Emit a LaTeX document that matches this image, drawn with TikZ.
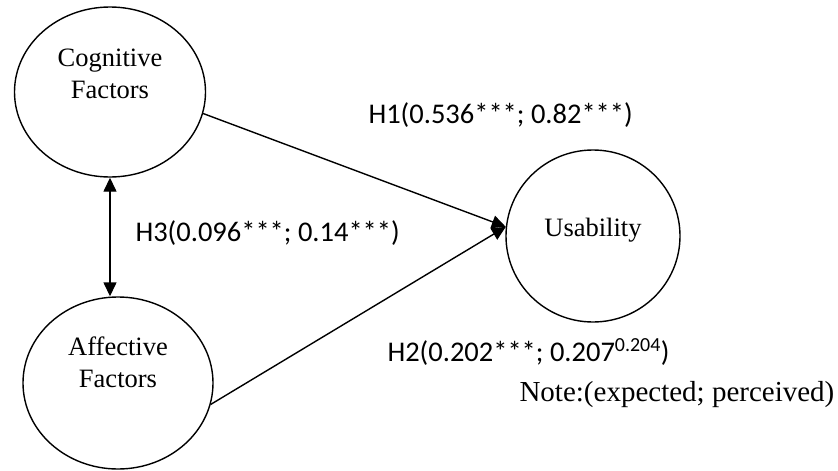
\documentclass[tikz,border=0pt]{standalone}
\usepackage{fontspec}
\setmainfont{Liberation Serif}
\newfontfamily\calibfont{Carlito}
\usetikzlibrary{arrows.meta,positioning,shapes.geometric}

\begin{document}
\begin{tikzpicture}[x=1pt, y=-1pt, >={Triangle[length=14pt,width=13pt]},
		construct/.style={draw, ellipse, line width=1.4pt, inner sep=0pt},
		constext/.style={align=center, font=\fontsize{26.5}{32}\selectfont},
		hyplabel/.style={anchor=west, font=\calibfont\fontsize{28.5}{34}\selectfont},
		path/.style={line width=1.4pt}]
	\useasboundingbox (0,0) rectangle (838,471);

	% --- Constructos ---
	\node[construct, minimum width=191pt, minimum height=170pt] (cog) at (110,92) {};
	\node[construct, minimum width=190pt, minimum height=172pt] (aff) at (118,383) {};
	\node[construct, minimum width=174pt, minimum height=172pt] (usa) at (593,236) {};

	\node[constext] (cogtxt) at (110,74) {Cognitive\\Factors};
	\node[constext] (afftxt) at (118,362) {Affective\\Factors};
	\node[constext] (usatxt) at (593,230) {Usability};

	% --- Relaciones ---
	\draw[path, ->] (cog.-13) -- (usa.174);
	\draw[path, ->] (aff.-13) -- (usa.174);
	\draw[path, <->] (cog.south) -- (cog.south |- aff.north);

	% --- Etiquetas ---
	\node[hyplabel] (h1) at (365,115) {H1(0.536***; 0.82***)};
	\node[hyplabel] (h3) at (132,233) {H3(0.096***; 0.14***)};
	\node[hyplabel] (h2) at (384,352) {H2(0.202***; 0.207\textsuperscript{0.204})};
	\node[anchor=west, font=\fontsize{29}{34}\selectfont] (note) at (516,395) {Note:(expected; perceived)};
\end{tikzpicture}
\end{document}
